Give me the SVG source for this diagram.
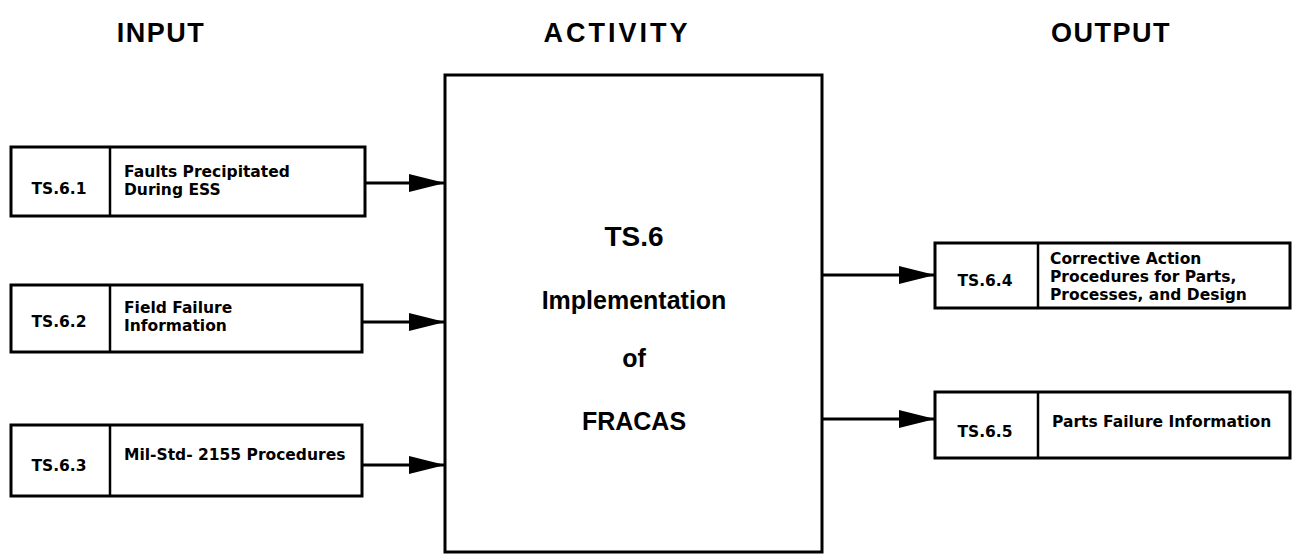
<svg xmlns="http://www.w3.org/2000/svg" width="1293" height="554" viewBox="0 0 1293 554">
<defs>
<style>
.box{fill:#fff;stroke:#000;stroke-width:3}
.div{stroke:#000;stroke-width:2.5}
.hdr{font-family:"Liberation Sans",Arial,sans-serif;font-weight:bold;font-size:27px;letter-spacing:1.5px;text-anchor:middle;fill:#000}
.big{font-family:"Liberation Sans",Arial,sans-serif;font-weight:bold;font-size:25px;text-anchor:middle;fill:#000}
.id{font-family:"DejaVu Sans",sans-serif;font-weight:bold;font-size:15.5px;text-anchor:middle;fill:#000}
.lbl{font-family:"DejaVu Sans",sans-serif;font-weight:bold;font-size:15.5px;fill:#000}
.con{stroke:#000;stroke-width:3;fill:none}
</style>
<marker id="ah" markerUnits="userSpaceOnUse" viewBox="0 0 36 18" refX="36" refY="9" markerWidth="36" markerHeight="18" orient="auto">
<path d="M0,0 L36,9 L0,18 Z" fill="#000"/>
</marker>
</defs>
<rect width="1293" height="554" fill="#fff"/>
<g id="headers">
<text class="hdr" x="161" y="42">INPUT</text>
<text class="hdr" x="617" y="42" style="letter-spacing:3px">ACTIVITY</text>
<text class="hdr" x="1111" y="42">OUTPUT</text>
</g>
<g id="activity">
<rect class="box" x="445" y="75" width="377" height="477"/>
<text class="big" x="634" y="246" style="font-size:28px">TS.6</text>
<text class="big" x="634" y="309">Implementation</text>
<text class="big" x="634" y="367">of</text>
<text class="big" x="634" y="430">FRACAS</text>
</g>
<g id="in1">
<rect class="box" x="11" y="147" width="354" height="69"/>
<line class="div" x1="110" y1="147" x2="110" y2="216"/>
<text class="id" x="59" y="194">TS.6.1</text>
<text class="lbl" x="124" y="177">Faults Precipitated</text>
<text class="lbl" x="124" y="195">During ESS</text>
</g>
<g id="in2">
<rect class="box" x="11" y="285" width="351" height="67"/>
<line class="div" x1="110" y1="285" x2="110" y2="352"/>
<text class="id" x="59" y="327">TS.6.2</text>
<text class="lbl" x="124" y="313">Field Failure</text>
<text class="lbl" x="124" y="331">Information</text>
</g>
<g id="in3">
<rect class="box" x="11" y="425" width="351" height="71"/>
<line class="div" x1="110" y1="425" x2="110" y2="496"/>
<text class="id" x="59" y="471">TS.6.3</text>
<text class="lbl" x="124" y="460">Mil-Std- 2155 Procedures</text>
</g>
<g id="out1">
<rect class="box" x="935" y="243" width="355" height="65"/>
<line class="div" x1="1038" y1="243" x2="1038" y2="308"/>
<text class="id" x="985" y="286">TS.6.4</text>
<text class="lbl" x="1050" y="264">Corrective Action</text>
<text class="lbl" x="1050" y="282">Procedures for Parts,</text>
<text class="lbl" x="1050" y="300">Processes, and Design</text>
</g>
<g id="out2">
<rect class="box" x="935" y="392" width="355" height="66"/>
<line class="div" x1="1038" y1="392" x2="1038" y2="458"/>
<text class="id" x="985" y="437">TS.6.5</text>
<text class="lbl" x="1052" y="427">Parts Failure Information</text>
</g>
<g id="connectors">
<line class="con" x1="365" y1="183" x2="445" y2="183" marker-end="url(#ah)"/>
<line class="con" x1="362" y1="322" x2="445" y2="322" marker-end="url(#ah)"/>
<line class="con" x1="362" y1="465" x2="445" y2="465" marker-end="url(#ah)"/>
<line class="con" x1="822" y1="275" x2="935" y2="275" marker-end="url(#ah)"/>
<line class="con" x1="822" y1="419" x2="935" y2="419" marker-end="url(#ah)"/>
</g>
</svg>
